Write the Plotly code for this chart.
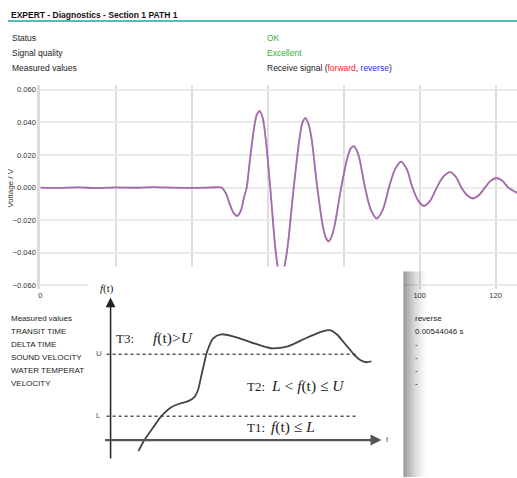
import plotly.graph_objects as go

# ---------------- data ----------------
# Receive signal: sample index and voltage (V)
SIG_X = [0, 5, 10, 15, 20, 25, 30, 35, 40, 45,
         47.8, 49.0, 49.9, 50.9, 51.9, 52.9, 53.7, 54.4, 55.3, 56.3, 57.0, 57.8, 58.6, 59.4,
         60.6, 61.9, 62.7, 63.5, 64.3, 65.2, 66.8, 68.3, 69.1, 69.9, 70.7, 71.5,
         73.0, 74.5, 75.3, 76.0, 76.8, 77.6, 79.3, 80.9, 81.8, 82.6, 83.4, 84.1,
         85.6, 87.1, 88.7, 90.3, 91.9, 93.5, 95.1, 96.6, 98.1, 99.6, 101.1, 102.8,
         104.5, 106.2, 108.0, 109.5, 111.0, 112.5, 114.0, 115.6, 117.2, 118.7, 120.3,
         121.8, 123.4, 126.0]
FORWARD = [0.0, -0.0002, 0.0001, -0.0003, 0.0002, -0.0001, 0.0003, 0.0, -0.0002, 0.0001,
           0.0, -0.004, -0.010, -0.0155, -0.0175, -0.014, -0.006, 0.0, 0.018, 0.036, 0.0445,
           0.047, 0.043, 0.030,
           0.0, -0.036, -0.050, -0.054, -0.049, -0.036, 0.0, 0.030, 0.040, 0.0428, 0.039, 0.030,
           0.0, -0.024, -0.031, -0.0331, -0.030, -0.023, 0.0, 0.018, 0.024, 0.0255, 0.023, 0.018,
           0.0, -0.0135, -0.019, -0.0135, 0.0, 0.0113, 0.016, 0.0113, 0.0, -0.008, -0.0113, -0.008,
           0.0, 0.0067, 0.0095, 0.0067, 0.0, -0.0047, -0.0067, -0.0047, 0.0, 0.0042, 0.0059,
           0.0042, 0.0, -0.0036]
REVERSE = [0.0001, -0.0001, 0.0002, -0.0002, 0.0001, 0.0, 0.0002, -0.0001, -0.0001, 0.0,
           0.0, -0.0038, -0.0098, -0.0152, -0.0172, -0.0138, -0.0058, 0.0002, 0.0182, 0.0358,
           0.0442, 0.0467, 0.0428, 0.0302,
           0.0002, -0.0357, -0.0497, -0.0537, -0.0487, -0.0358, 0.0001, 0.0298, 0.0398, 0.0425,
           0.0388, 0.0299,
           0.0001, -0.0238, -0.0308, -0.0328, -0.0298, -0.0229, 0.0, 0.0179, 0.0238, 0.0253,
           0.0229, 0.0179,
           0.0, -0.0134, -0.0188, -0.0134, 0.0, 0.0112, 0.0158, 0.0112, 0.0, -0.0079, -0.0111,
           -0.0079, 0.0, 0.0066, 0.0094, 0.0066, 0.0, -0.0046, -0.0066, -0.0046, 0.0, 0.0041,
           0.0058, 0.0041, 0.0, -0.0035]
X_TICKS = [0, 20, 40, 60, 80, 100, 120]
Y_TICKS = [-0.06, -0.04, -0.02, 0.0, 0.02, 0.04, 0.06]

HEADER_ROWS = ["Status", "Signal quality", "Measured values"]
LOWER_LABELS = ["Measured values", "TRANSIT TIME", "DELTA TIME", "SOUND VELOCITY",
                "WATER TEMPERAT", "VELOCITY"]
LOWER_VALUES = ["reverse", "0.00544046 s", "-", "-", "-", "-"]

# Inset diagram: threshold curve f(t) (diagram coordinates, pixel-like)
DIAG_T = [137, 143, 152, 160, 170, 180, 187, 193, 197, 200, 203, 206, 212, 220,
          232, 250, 270, 287, 307, 322, 330, 336, 343, 349, 354, 360, 366, 371]
DIAG_F = [452, 441, 428, 417, 408, 404, 402, 398, 390, 377, 364, 352, 339, 335,
          337, 343, 349, 347, 338, 332, 331, 335, 343, 350, 356, 361, 363, 362]
DIAG_U = 355
DIAG_L = 417
DIAG_X0, DIAG_X1 = 105, 358

FONT = "Liberation Sans, Arial, sans-serif"
SERIF = "Liberation Serif, Times New Roman, serif"

fig = go.Figure()

# main signal traces
fig.add_trace(go.Scatter(x=SIG_X, y=FORWARD, mode="lines", name="forward",
                         line=dict(color="rgba(225,80,80,0.75)", width=1.8, shape="spline", smoothing=0.8),
                         xaxis="x", yaxis="y", hoverinfo="skip"))
fig.add_trace(go.Scatter(x=SIG_X, y=REVERSE, mode="lines", name="reverse",
                         line=dict(color="rgba(100,100,230,0.6)", width=1.6, shape="spline", smoothing=0.8),
                         xaxis="x", yaxis="y", hoverinfo="skip"))

# inset diagram traces (overlay subplot in pixel-like coordinates)
for yv in (DIAG_U, DIAG_L):
    fig.add_trace(go.Scatter(x=[DIAG_X0, DIAG_X1], y=[yv, yv], mode="lines",
                             line=dict(color="#555555", width=1.5, dash="dot"),
                             xaxis="x2", yaxis="y2", hoverinfo="skip"))
fig.add_trace(go.Scatter(x=DIAG_T, y=DIAG_F, mode="lines",
                         line=dict(color="#444444", width=1.8, shape="spline", smoothing=0.8),
                         xaxis="x2", yaxis="y2", hoverinfo="skip"))

W, H = 517, 478
PX_LEFT, PX_TOP, PX_BOTTOM = 38.5, 85, 290

shapes = []
# teal header rule
shapes.append(dict(type="line", xref="x2", yref="y2", x0=6, x1=517, y0=21, y1=21,
                   line=dict(color="#1ba79c", width=1.5), layer="below"))
# inset white box
shapes.append(dict(type="rect", xref="x2", yref="y2", x0=87, x1=403, y0=267, y1=478,
                   fillcolor="white", line=dict(width=0), layer="below"))
# inset shadow on right side
n = 12
for i in range(n):
    a = 0.40 * (1 - i / n) ** 1.6
    shapes.append(dict(type="rect", xref="x2", yref="y2", x0=403 + 2 * i, x1=405 + 2 * i,
                       y0=272, y1=478, fillcolor=f"rgba(0,0,0,{a:.3f})",
                       line=dict(width=0), layer="below"))

ann = []
def txt(x, y, s, size=8, color="#222222", family=FONT, xanchor="left", angle=0):
    ann.append(dict(x=x, y=y, xref="x2", yref="y2", text=s, showarrow=False,
                    xanchor=xanchor, yanchor="middle", textangle=angle, borderpad=0,
                    font=dict(size=size, color=color, family=family)))

txt(8, 15, "<b>EXPERT - Diagnostics - Section 1 PATH 1</b>", size=8.5, color="#111111")
for lab, yy in zip(HEADER_ROWS, [38, 53, 68]):
    txt(9, yy, lab, size=8.5)
txt(265, 38, "OK", size=8.5, color="#33b233")
txt(265, 53, "Excellent", size=8.5, color="#33b233")
txt(265, 68, "Receive signal (<span style='color:#ff2020'>forward</span>, "
             "<span style='color:#2a2aff'>reverse</span>)", size=8.5)

lower_y = [319, 332.5, 345.5, 358.5, 371.5, 384.5]
for lab, yy in zip(LOWER_LABELS, lower_y):
    txt(8, yy, lab)
for v, yy in zip(LOWER_VALUES, lower_y):
    txt(414, yy, v)

# y axis title
txt(9, 188, "Voltage / V", size=8, color="#333333", xanchor="center", angle=-90)

# inset labels
txt(105, 289, "<i>f</i>(t)", size=11, color="#222222", family=SERIF, xanchor="center")
txt(93, 354, "U", size=8, color="#555555")
txt(93, 416, "L", size=8, color="#555555")
txt(384, 440, "t", size=8, color="#555555")
txt(113, 339, "T3:", size=13, family=SERIF)
txt(151, 339, "<i>f</i>(t)&gt;<i>U</i>", size=15.5, family=SERIF)
txt(245, 387, "T2:", size=13, family=SERIF)
txt(269, 387, "<i>L</i> &lt; <i>f</i>(t) ≤ <i>U</i>", size=15.5, family=SERIF)
txt(245, 428, "T1:", size=13, family=SERIF)
txt(269, 428, "<i>f</i>(t) ≤ <i>L</i>", size=15.5, family=SERIF)

# inset axes arrows
ann.append(dict(x=109, y=298, ax=109, ay=461, xref="x2", yref="y2", axref="x2", ayref="y2",
                text="", showarrow=True, arrowhead=2, arrowsize=1.3, arrowwidth=1.5,
                arrowcolor="#222222"))
ann.append(dict(x=381, y=441, ax=102, ay=441, xref="x2", yref="y2", axref="x2", ayref="y2",
                text="", showarrow=True, arrowhead=2, arrowsize=1.0, arrowwidth=2.2,
                arrowcolor="#555555"))

ymax = 0.06 + (90 - PX_TOP) / 1633.0
ymin = -0.06 - (PX_BOTTOM - 286) / 1633.0
xmax = (W - PX_LEFT) / 3.808

fig.update_layout(
    width=W, height=H, margin=dict(l=0, r=0, t=0, b=0),
    paper_bgcolor="white", plot_bgcolor="rgba(0,0,0,0)",
    showlegend=False,
    font=dict(family=FONT, size=8, color="#333333"),
    xaxis=dict(domain=[PX_LEFT / W, 1], range=[0, xmax], tickvals=X_TICKS,
               ticktext=[str(v) for v in X_TICKS], showgrid=True, gridcolor="#dedede",
               gridwidth=2, zeroline=False, showline=False, ticks="",
               tickfont=dict(size=7.5, color="#333333"), anchor="y", fixedrange=True),
    yaxis=dict(domain=[1 - PX_BOTTOM / H, 1 - PX_TOP / H], range=[ymin, ymax],
               tickvals=Y_TICKS, tickformat=".3f", showgrid=True, gridcolor="#ebebeb",
               gridwidth=2, zeroline=False, showline=True, linecolor="#dcdcdc",
               linewidth=3, ticks="", tickfont=dict(size=7.5, color="#333333"),
               anchor="x", fixedrange=True),
    xaxis2=dict(domain=[0, 1], range=[0, W], visible=False, anchor="y2", fixedrange=True),
    yaxis2=dict(domain=[0, 1], range=[H, 0], visible=False, anchor="x2", fixedrange=True),
    shapes=shapes, annotations=ann,
)

fig.write_html("out.html", config={"displayModeBar": False},
               post_script="document.body.style.margin='0';")
